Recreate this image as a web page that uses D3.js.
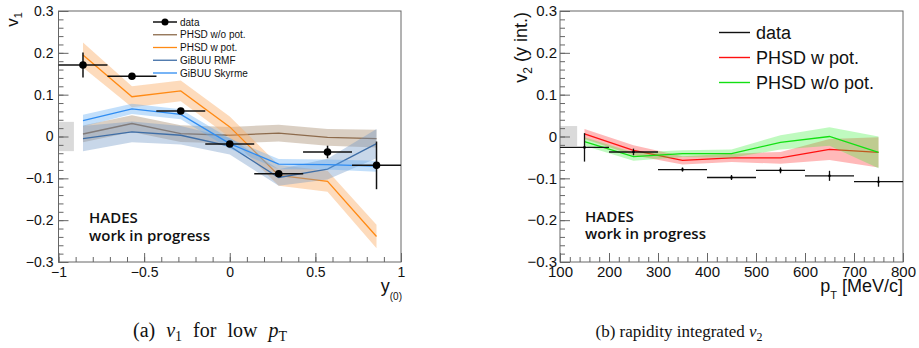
<!DOCTYPE html>
<html><head><meta charset="utf-8">
<script src="https://cdn.jsdelivr.net/npm/d3@7"></script>
<style>
body{margin:0;background:#fff}
svg{display:block}
text{font-family:"Liberation Sans",Arial,Helvetica,sans-serif;fill:#111}
</style>
</head><body>
<svg id="c" width="919" height="348"></svg>
<script>
// ---------- Panel (a): v1 vs rapidity ----------
const v1Rapidity      = [-0.857, -0.571, -0.286, 0.0, 0.286, 0.571, 0.857];
const v1RapidityHalf  = [0.143, 0.143, 0.143, 0.143, 0.143, 0.143, 0.143];
const v1Data          = [0.171, 0.144, 0.061, -0.018, -0.089, -0.037, -0.069];
const v1DataErr       = [0.030, 0.006, 0.005, 0.005, 0.006, 0.015, 0.057];
const v1PhsdWoPot     = [0.006, 0.031, 0.007, 0.003, 0.008, -0.002, -0.005];
const v1PhsdWoPotErr  = [0.020, 0.020, 0.020, 0.020, 0.020, 0.020, 0.021];
const v1PhsdWPot      = [0.195, 0.095, 0.109, 0.023, -0.093, -0.107, -0.239];
const v1PhsdWPotErr   = [0.030, 0.025, 0.025, 0.025, 0.025, 0.025, 0.028];
const v1GibuuRmf      = [-0.005, 0.011, 0.003, -0.023, -0.098, -0.078, -0.017];
const v1GibuuRmfErr   = [0.030, 0.025, 0.022, 0.020, 0.020, 0.025, 0.035];
const v1GibuuSky      = [0.038, 0.066, 0.053, -0.017, -0.066, -0.067, -0.071];
const v1GibuuSkyErr   = [0.014, 0.012, 0.012, 0.012, 0.012, 0.012, 0.013];
const v1SysBox        = {x0: -1.0, x1: -0.91, y0: -0.035, y1: 0.035};
const v1XTicks        = [-1, -0.5, 0, 0.5, 1];
const v1XTickLabels   = ["\u22121", "\u22120.5", "0", "0.5", "1"];
const yTicks          = [-0.3, -0.2, -0.1, 0, 0.1, 0.2, 0.3];
const yTickLabels     = ["\u22120.3", "\u22120.2", "\u22120.1", "0", "0.1", "0.2", "0.3"];
const v1LegendLabels  = ["data", "PHSD w/o pot.", "PHSD w pot.", "GiBUU RMF", "GiBUU Skyrme"];

// ---------- Panel (b): v2 vs pT ----------
const v2Pt            = [150, 250, 350, 450, 550, 650, 750];
const v2PtHalf        = [50, 50, 50, 50, 50, 50, 50];
const v2Data          = [-0.026, -0.037, -0.079, -0.098, -0.081, -0.094, -0.108];
const v2DataErr       = [0.034, 0.008, 0.005, 0.006, 0.007, 0.012, 0.012];
const v2PhsdWPot      = [0.006, -0.033, -0.057, -0.051, -0.051, -0.031, -0.038];
const v2PhsdWPotErr   = [0.012, 0.012, 0.010, 0.010, 0.014, 0.025, 0.036];
const v2PhsdWoPot     = [-0.012, -0.048, -0.041, -0.041, -0.014, 0.000, -0.038];
const v2PhsdWoPotErr  = [0.010, 0.010, 0.008, 0.010, 0.017, 0.022, 0.038];
const v2SysBox        = {x0: 100, x1: 135, y0: -0.023, y1: 0.025};
const v2XTicks        = [100, 200, 300, 400, 500, 600, 700, 800];
const v2XTickLabels   = ["100", "200", "300", "400", "500", "600", "700", "800"];
const v2LegendLabels  = ["data", "PHSD w pot.", "PHSD w/o pot."];

const svg = d3.select("#c");
const FRAME = "#666";

function zip(xs, ys, es) { return xs.map((x, i) => ({x, y: ys[i], e: es ? es[i] : 0})); }

function drawAxes(g, x, y, opt) {
  const [ylo, yhi] = y.domain();
  const yMinor = d3.range(Math.round(ylo * 50), Math.round(yhi * 50) + 1).map(k => k / 50);
  g.append("g").attr("transform", `translate(${x.range()[0]},0)`)
    .call(d3.axisLeft(y).tickValues(yMinor).tickSize(-5).tickFormat(""))
    .call(a => a.select(".domain").remove())
    .call(a => a.selectAll("line").attr("stroke", FRAME));
  g.append("g").attr("transform", `translate(${x.range()[0]},0)`)
    .call(d3.axisLeft(y).tickValues(yTicks).tickSize(-10).tickPadding(opt.yPad)
      .tickFormat((d, i) => yTickLabels[i]))
    .call(a => a.select(".domain").remove())
    .call(a => a.selectAll("line").attr("stroke", FRAME))
    .call(a => a.selectAll("text").style("font-size", opt.fs + "px").attr("fill", "#111"));
  g.append("g").attr("transform", `translate(0,${y.range()[0]})`)
    .call(d3.axisBottom(x).tickValues(opt.xMinor).tickSize(-5).tickFormat(""))
    .call(a => a.select(".domain").remove())
    .call(a => a.selectAll("line").attr("stroke", FRAME));
  g.append("g").attr("transform", `translate(0,${y.range()[0]})`)
    .call(d3.axisBottom(x).tickValues(opt.xTicks).tickSize(-9).tickPadding(opt.xPad)
      .tickFormat((d, i) => opt.xLabels[i]))
    .call(a => a.select(".domain").remove())
    .call(a => a.selectAll("line").attr("stroke", FRAME))
    .call(a => a.selectAll("text").style("font-size", opt.fs + "px").attr("fill", "#111"));
  g.append("rect")
    .attr("x", x.range()[0]).attr("y", y.range()[1])
    .attr("width", x.range()[1] - x.range()[0]).attr("height", y.range()[0] - y.range()[1])
    .attr("fill", "none").attr("stroke", FRAME).attr("stroke-width", 1);
}

function drawModel(g, x, y, xs, vals, errs, lineColor, bandColor, bandOpacity) {
  const pts = zip(xs, vals, errs);
  g.append("path").datum(pts)
    .attr("d", d3.area().x(d => x(d.x)).y0(d => y(d.y - d.e)).y1(d => y(d.y + d.e)))
    .attr("fill", bandColor).attr("fill-opacity", bandOpacity).attr("stroke", "none");
  g.append("path").datum(pts)
    .attr("d", d3.line().x(d => x(d.x)).y(d => y(d.y)))
    .attr("fill", "none").attr("stroke", lineColor).attr("stroke-width", 1.3);
}

function drawData(g, x, y, xs, xh, vals, errs, r, sw) {
  const pts = xs.map((xv, i) => ({x: xv, h: xh[i], y: vals[i], e: errs[i]}));
  const dg = g.append("g");
  dg.selectAll(".hx").data(pts).join("line")
    .attr("x1", d => x(d.x - d.h)).attr("x2", d => x(Math.min(d.x + d.h, x.domain()[1])))
    .attr("y1", d => y(d.y)).attr("y2", d => y(d.y))
    .attr("stroke", "#111").attr("stroke-width", sw);
  dg.selectAll(".vy").data(pts).join("line")
    .attr("x1", d => x(d.x)).attr("x2", d => x(d.x))
    .attr("y1", d => y(d.y - d.e)).attr("y2", d => y(d.y + d.e))
    .attr("stroke", "#111").attr("stroke-width", sw);
  dg.selectAll("circle").data(pts).join("circle")
    .attr("cx", d => x(d.x)).attr("cy", d => y(d.y)).attr("r", r).attr("fill", "#000");
}

function hades(g, x0, y0) {
  const t = g.append("text").attr("x", x0).attr("y", y0)
    .style("font-family", "'Open Sans','Noto Sans',sans-serif").style("font-weight", 600)
    .style("font-size", "15px").attr("fill", "#111");
  t.append("tspan").attr("x", x0).text("HADES");
  t.append("tspan").attr("x", x0).attr("dy", 17.5).text("work in progress");
}

// ================= Panel (a) =================
{
  const x = d3.scaleLinear().domain([-1, 1]).range([58.5, 401]);
  const y = d3.scaleLinear().domain([-0.3, 0.3]).range([262, 11]);
  const g = svg.append("g");

  g.append("rect").attr("x", x(v1SysBox.x0)).attr("y", y(v1SysBox.y1))
    .attr("width", x(v1SysBox.x1) - x(v1SysBox.x0)).attr("height", y(v1SysBox.y0) - y(v1SysBox.y1))
    .attr("fill", "#dadada");

  drawModel(g, x, y, v1Rapidity, v1PhsdWoPot, v1PhsdWoPotErr, "#8d6b4c", "#a88d70", 0.42);
  drawModel(g, x, y, v1Rapidity, v1PhsdWPot, v1PhsdWPotErr, "#ff8a14", "#fbb06a", 0.45);
  drawModel(g, x, y, v1Rapidity, v1GibuuRmf, v1GibuuRmfErr, "#3f6ea6", "#6f95c4", 0.38);
  drawModel(g, x, y, v1Rapidity, v1GibuuSky, v1GibuuSkyErr, "#2e8cf2", "#5eaaf5", 0.38);

  drawAxes(g, x, y, {fs: 14, yPad: 5, xPad: 5, xTicks: v1XTicks, xLabels: v1XTickLabels,
    xMinor: d3.range(-10, 11).map(k => k / 10)});

  drawData(g, x, y, v1Rapidity, v1RapidityHalf, v1Data, v1DataErr, 3.8, 1.5);

  const legColors = [null, "#8d6b4c", "#ff8a14", "#3f6ea6", "#2e8cf2"];
  const lg = g.append("g");
  v1LegendLabels.forEach((lab, i) => {
    const yy = 22 + i * 12.75;
    lg.append("line").attr("x1", 153).attr("x2", 177).attr("y1", yy).attr("y2", yy)
      .attr("stroke", i === 0 ? "#111" : legColors[i]).attr("stroke-width", i === 0 ? 1.5 : 1.3);
    if (i === 0) lg.append("circle").attr("cx", 165).attr("cy", yy).attr("r", 3.5).attr("fill", "#000");
    lg.append("text").attr("x", 180).attr("y", yy).attr("dy", "0.35em")
      .style("font-size", "10px").text(lab);
  });

  hades(g, 89, 223);

  const yt = g.append("text").attr("transform", "translate(18,12) rotate(-90)")
    .attr("text-anchor", "end").style("font-size", "17px");
  yt.append("tspan").text("v");
  yt.append("tspan").attr("dy", 4).style("font-size", "11px").text("1");

  const xt = g.append("text").attr("x", 402).attr("y", 292).attr("text-anchor", "end")
    .style("font-size", "18px");
  xt.append("tspan").text("y");
  xt.append("tspan").attr("dy", 8).style("font-size", "10px").text("(0)");

  const cap = g.append("text").attr("x", 210).attr("y", 336.5).attr("text-anchor", "middle")
    .style("font-family", "'Liberation Serif','Times New Roman',serif").style("font-size", "20px")
    .style("word-spacing", "6px");
  cap.append("tspan").text("(a) ");
  cap.append("tspan").style("font-style", "italic").text("v");
  cap.append("tspan").attr("dy", 4).style("font-size", "14px").text("1");
  cap.append("tspan").attr("dy", -4).text(" for low ");
  cap.append("tspan").style("font-style", "italic").text("p");
  cap.append("tspan").attr("dy", 4).style("font-size", "14px").text("T");
}

// ================= Panel (b) =================
{
  const x = d3.scaleLinear().domain([100, 800]).range([560, 903]);
  const y = d3.scaleLinear().domain([-0.3, 0.3]).range([262, 11]);
  const g = svg.append("g");

  g.append("rect").attr("x", x(v2SysBox.x0)).attr("y", y(v2SysBox.y1))
    .attr("width", x(v2SysBox.x1) - x(v2SysBox.x0)).attr("height", y(v2SysBox.y0) - y(v2SysBox.y1))
    .attr("fill", "#dadada");

  drawModel(g, x, y, v2Pt, v2PhsdWPot, v2PhsdWPotErr, "#ff1010", "#ff5050", 0.4);
  drawModel(g, x, y, v2Pt, v2PhsdWoPot, v2PhsdWoPotErr, "#12e012", "#3cf03c", 0.33);

  drawAxes(g, x, y, {fs: 15, yPad: 3, xPad: 4, xTicks: v2XTicks, xLabels: v2XTickLabels,
    xMinor: d3.range(100, 801, 20)});

  drawData(g, x, y, v2Pt, v2PtHalf, v2Data, v2DataErr, 1.3, 1.3);

  const legColors = ["#111", "#ff1010", "#12e012"];
  v2LegendLabels.forEach((lab, i) => {
    const yy = 32.5 + i * 25;
    g.append("line").attr("x1", 719).attr("x2", 750).attr("y1", yy).attr("y2", yy)
      .attr("stroke", legColors[i]).attr("stroke-width", 1.4);
    g.append("text").attr("x", 756).attr("y", yy).attr("dy", "0.35em")
      .style("font-size", "18px").text(lab);
  });

  hades(g, 585, 221.5);

  const yt = g.append("text").attr("transform", "translate(527,12) rotate(-90)")
    .attr("text-anchor", "end").style("font-size", "18px");
  yt.append("tspan").text("v");
  yt.append("tspan").attr("dy", 5).style("font-size", "12px").text("2");
  yt.append("tspan").attr("dy", -5).text(" (y int.)");

  const xt = g.append("text").attr("x", 903).attr("y", 292).attr("text-anchor", "end")
    .style("font-size", "18px");
  xt.append("tspan").text("p");
  xt.append("tspan").attr("dy", 7).style("font-size", "11px").text("T");
  xt.append("tspan").attr("dy", -7).text(" [MeV/c]");

  const cap = g.append("text").attr("x", 679).attr("y", 336.5).attr("text-anchor", "middle")
    .style("font-family", "'Liberation Serif','Times New Roman',serif").style("font-size", "17px");
  cap.append("tspan").text("(b) rapidity integrated ");
  cap.append("tspan").style("font-style", "italic").text("v");
  cap.append("tspan").attr("dy", 4).style("font-size", "12px").text("2");
}
</script>
</body></html>
